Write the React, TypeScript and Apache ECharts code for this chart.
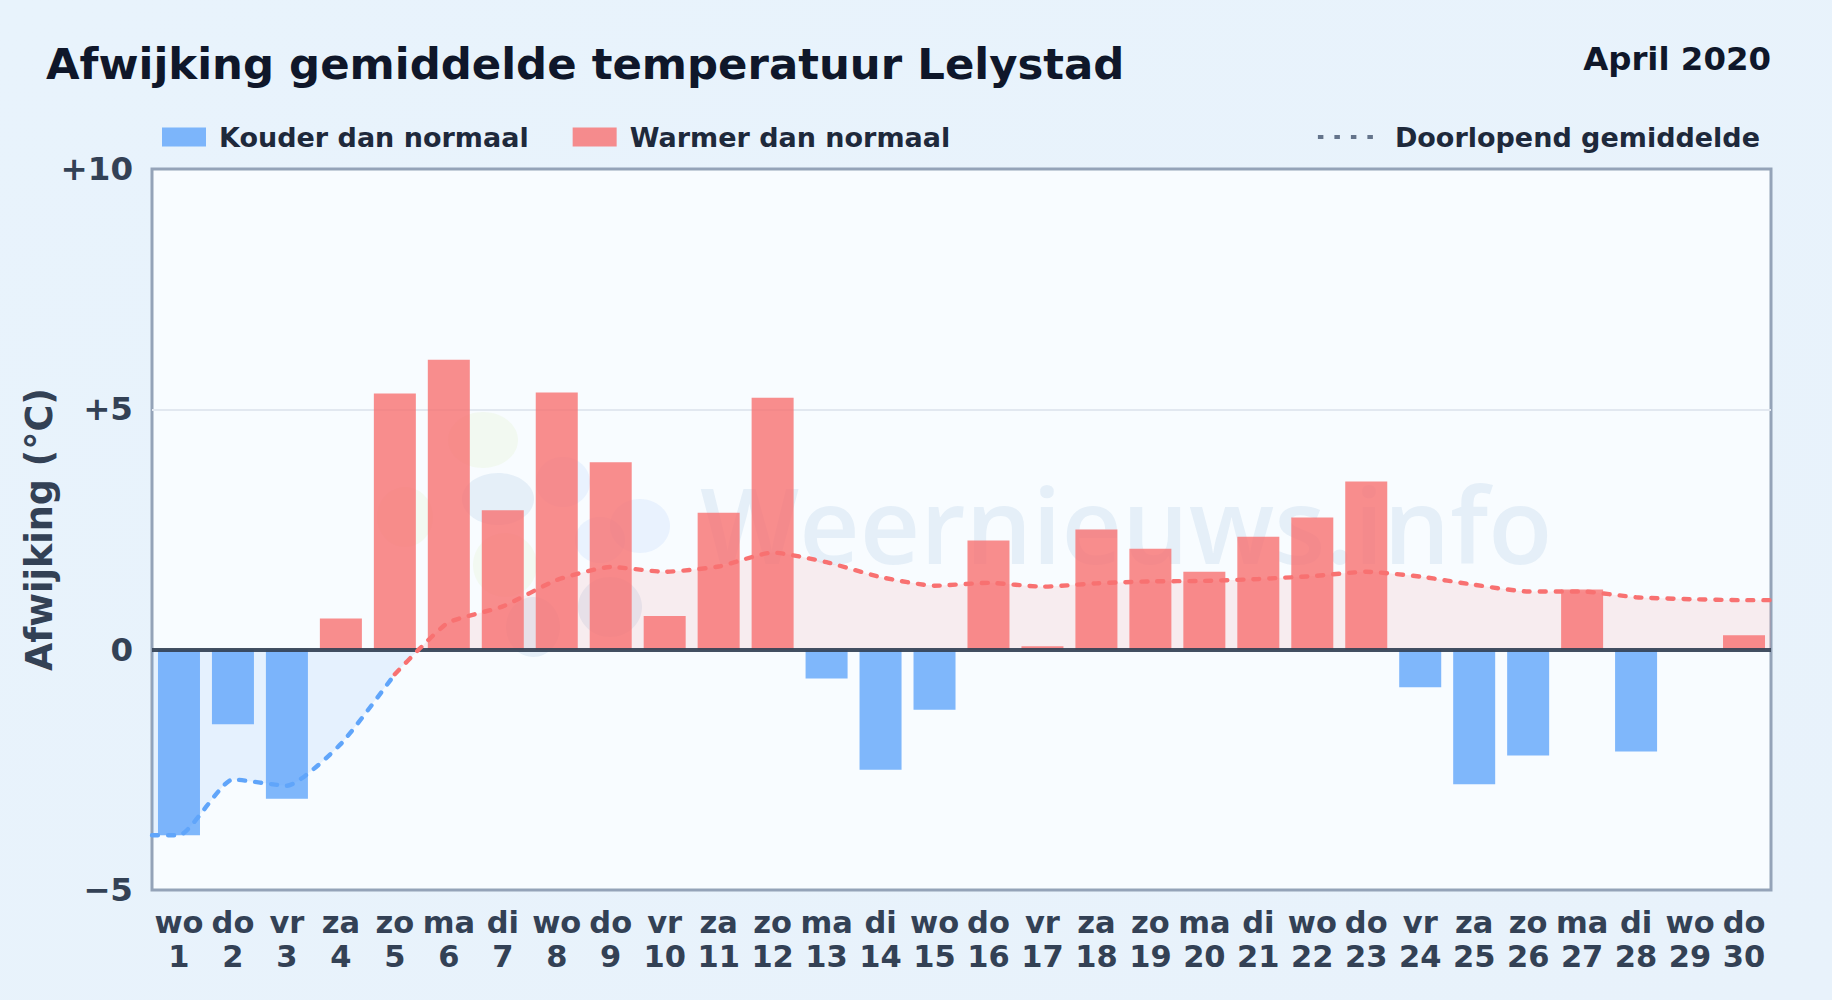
import React, { useEffect, useRef } from "react";
import * as echarts from "echarts";

const dayNames = ["wo","do","vr","za","zo","ma","di","wo","do","vr","za","zo","ma","di","wo","do","vr","za","zo","ma","di","wo","do","vr","za","zo","ma","di","wo","do"];
const dayNumbers = ["1","2","3","4","5","6","7","8","9","10","11","12","13","14","15","16","17","18","19","20","21","22","23","24","25","26","27","28","29","30"];
const deviations = [-3.86,-1.55,-3.1,0.65,5.33,6.03,2.9,5.35,3.9,0.7,2.85,5.24,-0.6,-2.5,-1.25,2.27,0.07,2.5,2.1,1.62,2.35,2.75,3.5,-0.78,-2.8,-2.2,1.25,-2.12,0,0.3];
const coldLine: [number, number][] = [[0.5,-3.86],[1,-3.86],[2,-2.7],[3,-2.83],[4,-1.96],[5,-0.51]];
const coldArea: [number, number][] = [[0.5,-3.86],[1,-3.86],[2,-2.7],[3,-2.83],[4,-1.96],[5,-0.51],[5.44,0]];
const warmLine: [number, number][] = [[5,-0.51],[5.44,0],[6,0.57],[7,0.9],[8,1.45],[9,1.72],[10,1.62],[11,1.73],[12,2.02],[13,1.82],[14,1.51],[15,1.33],[16,1.39],[17,1.31],[18,1.38],[19,1.42],[20,1.43],[21,1.47],[22,1.53],[23,1.62],[24,1.52],[25,1.35],[26,1.21],[27,1.21],[28,1.09],[29,1.05],[30,1.03],[30.5,1.03]];
const warmArea: [number, number][] = [[5.44,0],[6,0.57],[7,0.9],[8,1.45],[9,1.72],[10,1.62],[11,1.73],[12,2.02],[13,1.82],[14,1.51],[15,1.33],[16,1.39],[17,1.31],[18,1.38],[19,1.42],[20,1.43],[21,1.47],[22,1.53],[23,1.62],[24,1.52],[25,1.35],[26,1.21],[27,1.21],[28,1.09],[29,1.05],[30,1.03],[30.5,1.03]];
const categories = dayNames.map((n, i) => `${n}\n${dayNumbers[i]}`);
const coldBars = deviations.map((v) => (v < 0 ? v : null));
const warmBars = deviations.map((v) => (v > 0 ? v : null));

const FONT = "DejaVu Sans";
const GREEN = "rgba(163,210,60,0.07)";
const LIGHTBLUE = "rgba(59,130,246,0.08)";
const GREYBLUE = "rgba(30,100,170,0.085)";

const blob = (cx: number, cy: number, rx: number, ry: number, fill: string) => ({ type: "ellipse", shape: { cx, cy, rx, ry }, style: { fill } });

export default function App() {
  const ref = useRef<HTMLDivElement>(null);
  useEffect(() => {
    document.body.style.margin = "0";
    const chart = echarts.init(ref.current!, null, { renderer: "svg" });
    const lineBase = { type: "line", xAxisIndex: 1, yAxisIndex: 0, smooth: 0.18, showSymbol: false, symbol: "none", silent: true };
    const dashed = { width: 4.4, type: [6, 10], cap: "round" };
    chart.setOption({
      animation: false,
      backgroundColor: { type: "linear", x: 0, y: 0, x2: 1, y2: 1, colorStops: [{ offset: 0, color: "#e8f3fc" }, { offset: 1, color: "#e8f2fb" }] },
      textStyle: { fontFamily: FONT },
      grid: { left: 152, right: 61, top: 169, bottom: 110, show: true, backgroundColor: "#f8fcff", borderColor: "#94a3b8", borderWidth: 3, containLabel: false },
      title: [
        { text: "Afwijking gemiddelde temperatuur Lelystad", left: 41, top: 37, textStyle: { fontFamily: FONT, fontWeight: "bold", fontSize: 43.4, color: "#0f172a" } },
        { text: "April 2020", right: 56, top: 38, textStyle: { fontFamily: FONT, fontWeight: "bold", fontSize: 32.4, color: "#0f172a" } },
      ],
      legend: [
        { left: 157, top: 118.5, icon: "rect", itemWidth: 44, itemHeight: 19, itemGap: 44, data: ["Kouder dan normaal", "Warmer dan normaal"], textStyle: { fontFamily: FONT, fontWeight: "bold", fontSize: 27, color: "#1e293b", padding: [0, 0, 0, 8] } },
        { right: 67, top: 118.5, icon: "path://M0 0h5.5v4H0z M16.5 0h5.5v4h-5.5z M33 0h5.5v4H33z M49.5 0h5.5v4h-5.5z", itemWidth: 55, itemHeight: 4, data: ["Doorlopend gemiddelde"], textStyle: { fontFamily: FONT, fontWeight: "bold", fontSize: 27, color: "#1e293b", padding: [0, 0, 0, 17] } },
      ],
      xAxis: [
        { type: "category", data: categories, position: "bottom", axisLine: { show: false }, axisTick: { show: false }, axisLabel: { interval: 0, margin: 15, fontFamily: FONT, fontWeight: "bold", fontSize: 30.5, lineHeight: 34, color: "#334155" }, splitLine: { show: false } },
        { type: "value", min: 0.5, max: 30.5, show: false, splitLine: { show: false } },
      ],
      yAxis: {
        type: "value", min: -5, max: 10, interval: 5,
        name: "Afwijking (°C)", nameLocation: "middle", nameMoveOverlap: false, nameGap: 94, nameTextStyle: { fontFamily: FONT, fontWeight: "bold", fontSize: 36.5, color: "#334155" },
        axisLine: { show: false }, axisTick: { show: false },
        axisLabel: { margin: 19, fontFamily: FONT, fontWeight: "bold", fontSize: 32.5, color: "#334155", formatter: (v: number) => (v > 0 ? `+${v}` : v < 0 ? `\u2212${-v}` : "0") },
        splitLine: { showMinLine: false, showMaxLine: false, lineStyle: { color: "#e2e8f0", width: 2 } },
      },
      graphic: [
        {
          type: "group", z: 1, silent: true,
          children: [
            { type: "text", x: 700, y: 471, style: { text: "Weernieuws.info", font: `600 105px "Open Sans"`, fill: GREYBLUE } },
            blob(483, 440, 35, 28, GREEN),
            blob(405, 517, 28, 30, GREEN),
            blob(505, 565, 32, 32, GREEN),
            blob(498, 499, 36, 26, GREYBLUE),
            blob(563, 482, 27, 25, LIGHTBLUE),
            blob(640, 526, 30, 27, LIGHTBLUE),
            blob(600, 540, 25, 23, LIGHTBLUE),
            blob(610, 607, 32, 30, GREYBLUE),
            blob(533, 627, 27, 30, GREYBLUE),
          ],
        },
      ],
      series: [
        { ...lineBase, name: "bandKoud", data: coldArea, z: 2, lineStyle: { width: 0, opacity: 0 }, areaStyle: { color: "rgba(96,165,250,0.18)", origin: 0 } },
        { ...lineBase, name: "bandWarm", data: warmArea, z: 2, lineStyle: { width: 0, opacity: 0 }, areaStyle: { color: "rgba(248,113,113,0.16)", origin: 0 } },
        { name: "Kouder dan normaal", type: "bar", stack: "d", data: coldBars, barWidth: 42, z: 3, itemStyle: { color: "#60a5fa", opacity: 0.8 } },
        { name: "Warmer dan normaal", type: "bar", stack: "d", data: warmBars, barWidth: 42, z: 3, itemStyle: { color: "#f87171", opacity: 0.8 },
          markLine: { silent: true, symbol: "none", z: 4, label: { show: false }, lineStyle: { color: "#334155", type: "solid", width: 4, opacity: 0.92 }, data: [{ yAxis: 0 }] } },
        { ...lineBase, name: "Doorlopend koud", data: coldLine, z: 6, lineStyle: { ...dashed, color: "#60a5fa" } },
        { ...lineBase, name: "Doorlopend warm", data: warmLine, z: 5, lineStyle: { ...dashed, color: "#f87171" } },
        { ...lineBase, name: "Doorlopend gemiddelde", data: [], lineStyle: { color: "#64748b", width: 4 }, itemStyle: { color: "#64748b" } },
      ],
    });
    return () => chart.dispose();
  }, []);
  return <div ref={ref} style={{ width: 1832, height: 1000 }} />;
}
